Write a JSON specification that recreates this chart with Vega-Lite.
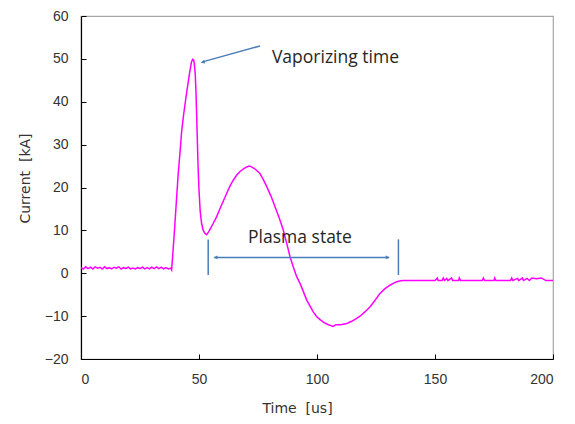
{
  "$schema": "https://vega.github.io/schema/vega-lite/v6.json",
  "width": 472,
  "height": 343,
  "autosize": "none",
  "padding": {"left": 81, "top": 16, "right": 22, "bottom": 65},
  "background": "white",
  "config": {
    "view": {"stroke": "#a6a6a6", "strokeWidth": 1.2},
    "font": "Liberation Sans"
  },
  "layer": [
    {
      "data": {"values": [
        {"t":0,"i":1.3},{"t":1,"i":1.0},{"t":2,"i":1.5},{"t":3,"i":1.1},{"t":4,"i":1.4},{"t":5,"i":1.0},{"t":6,"i":1.5},{"t":7,"i":1.2},{"t":8,"i":1.4},{"t":9,"i":1.0},
        {"t":10,"i":1.5},{"t":11,"i":1.1},{"t":12,"i":1.3},{"t":13,"i":1.0},{"t":14,"i":1.4},{"t":15,"i":1.2},{"t":16,"i":1.5},{"t":17,"i":1.0},{"t":18,"i":1.3},{"t":19,"i":1.1},
        {"t":20,"i":1.4},{"t":21,"i":1.0},{"t":22,"i":1.2},{"t":23,"i":1.0},{"t":24,"i":1.3},{"t":25,"i":1.1},{"t":26,"i":1.4},{"t":27,"i":1.0},{"t":28,"i":1.3},{"t":29,"i":1.0},
        {"t":30,"i":1.4},{"t":31,"i":1.1},{"t":32,"i":1.5},{"t":33,"i":1.1},{"t":34,"i":1.4},{"t":35,"i":1.0},{"t":36,"i":1.3},{"t":37,"i":1.0},{"t":38,"i":1.2},{"t":38.4,"i":0.8},
        {"t":39.1,"i":6},{"t":39.8,"i":11.6},{"t":40.5,"i":17.5},{"t":41.2,"i":23.3},{"t":42,"i":28.5},{"t":42.7,"i":33.4},{"t":43.6,"i":37.5},{"t":44.5,"i":41.1},{"t":45.4,"i":44.5},{"t":46.2,"i":47.4},
        {"t":46.8,"i":49.2},{"t":47.3,"i":49.9},{"t":47.7,"i":49.8},{"t":48,"i":48.9},{"t":48.4,"i":46.5},{"t":48.7,"i":42.7},{"t":49,"i":37},{"t":49.3,"i":31},{"t":49.6,"i":25},{"t":50,"i":19.4},
        {"t":50.5,"i":14.5},{"t":51.1,"i":11.6},{"t":51.8,"i":10},{"t":52.5,"i":9.3},{"t":53.2,"i":9.0},{"t":54,"i":9.6},{"t":55,"i":10.6},{"t":56,"i":11.6},{"t":57.5,"i":13.2},{"t":59,"i":15.2},
        {"t":60.5,"i":17.1},{"t":61.7,"i":18.6},{"t":63,"i":20.2},{"t":64.5,"i":21.7},{"t":66,"i":22.9},{"t":67.5,"i":23.8},{"t":69,"i":24.4},{"t":70.2,"i":24.8},{"t":71.3,"i":25.0},{"t":72.3,"i":24.8},
        {"t":74,"i":24.2},{"t":75.8,"i":23.3},{"t":77.2,"i":21.9},{"t":78.7,"i":20.2},{"t":80.5,"i":18.0},{"t":82.2,"i":15.5},{"t":84,"i":12.9},{"t":85.7,"i":10.1},{"t":87.2,"i":6.9},{"t":88.6,"i":3.8},
        {"t":90,"i":1.4},{"t":91.4,"i":-0.8},{"t":93,"i":-2.6},{"t":94.3,"i":-4.4},{"t":95.6,"i":-6.2},{"t":97,"i":-7.6},{"t":98.4,"i":-9.0},{"t":99.8,"i":-10.1},{"t":101.3,"i":-10.8},{"t":103,"i":-11.5},
        {"t":104.8,"i":-12.0},{"t":106.9,"i":-12.4},{"t":108,"i":-12.0},{"t":110,"i":-12.0},{"t":112.6,"i":-11.7},{"t":114.7,"i":-11.2},{"t":116.8,"i":-10.5},{"t":118.5,"i":-9.9},{"t":120.5,"i":-8.9},{"t":122.5,"i":-7.8},
        {"t":124.6,"i":-6.3},{"t":126.7,"i":-4.7},{"t":128.8,"i":-3.6},{"t":130.9,"i":-2.8},{"t":132.5,"i":-2.3},{"t":133.8,"i":-2.0},{"t":135,"i":-1.8},{"t":136.4,"i":-1.7},
        {"t":140,"i":-1.7},{"t":150,"i":-1.7},{"t":151,"i":-1.1},{"t":151.3,"i":-1.7},{"t":153,"i":-1.7},{"t":153.5,"i":-1.1},{"t":154,"i":-1.7},{"t":155,"i":-1.2},{"t":155.5,"i":-1.7},{"t":157,"i":-1.1},
        {"t":157.5,"i":-1.7},{"t":160,"i":-1.7},{"t":160.3,"i":-1.1},{"t":160.8,"i":-1.7},{"t":170,"i":-1.7},{"t":170.5,"i":-1.1},{"t":171,"i":-1.7},{"t":175,"i":-1.7},{"t":175.3,"i":-1.1},{"t":175.8,"i":-1.7},
        {"t":182,"i":-1.7},{"t":182.5,"i":-1.1},{"t":183,"i":-1.7},{"t":185,"i":-1.2},{"t":185.5,"i":-1.7},{"t":187,"i":-1.1},{"t":187.5,"i":-1.7},{"t":189,"i":-1.2},{"t":190,"i":-1.7},{"t":191,"i":-1.1},
        {"t":193,"i":-1.3},{"t":195,"i":-1.1},{"t":197,"i":-1.7},{"t":200,"i":-1.7}
      ]},
      "mark": {"type": "line", "color": "#ff00ff", "strokeWidth": 1.5, "clip": true},
      "encoding": {
        "x": {"field": "t", "type": "quantitative",
          "scale": {"domain": [0, 200], "nice": false, "zero": false},
          "axis": {"values": [0, 50, 100, 150, 200], "grid": false, "title": "Time\u00a0 [us]",
            "domainColor": "#000000", "domainWidth": 1.2, "tickColor": "#000000", "tickSize": -5,
            "labelFontSize": 14, "labelColor": "#333333", "labelPadding": 18, "labelFont": "Liberation Sans",
            "titleFontSize": 14, "titleFontWeight": "normal", "titleColor": "#333333", "titleFont": "DejaVu Sans",
            "titleX": 216, "titleY": 49, "titleBaseline": "middle", "titleAnchor": "middle"}},
        "y": {"field": "i", "type": "quantitative",
          "scale": {"domain": [-20, 60], "nice": false, "zero": false},
          "axis": {"values": [-20, -10, 0, 10, 20, 30, 40, 50, 60], "grid": false, "title": "Current\u00a0 [kA]",
            "domainColor": "#000000", "domainWidth": 1.2, "tickColor": "#000000", "tickSize": -5,
            "labelFontSize": 14, "labelColor": "#333333", "labelPadding": 18, "labelFont": "Liberation Sans",
            "titleFontSize": 14, "titleFontWeight": "normal", "titleColor": "#333333", "titleFont": "DejaVu Sans",
            "titleX": -56, "titleY": 162, "titleBaseline": "middle", "titleAnchor": "middle"}}
      }
    },
    {
      "data": {"values": [
        {"t": 75.8, "i": 53.0, "t2": 51.5, "i2": 49.3},
        {"t": 56.5, "i": 3.7, "t2": 130.5, "i2": 3.7},
        {"t": 53.9, "i": 7.9, "t2": 53.9, "i2": -0.4},
        {"t": 134.5, "i": 7.9, "t2": 134.5, "i2": -0.4}
      ]},
      "mark": {"type": "rule", "color": "#4a7ebb", "strokeWidth": 1.5},
      "encoding": {
        "x": {"field": "t", "type": "quantitative"},
        "x2": {"field": "t2"},
        "y": {"field": "i", "type": "quantitative"},
        "y2": {"field": "i2"}
      }
    },
    {
      "data": {"values": [{"t": 50.7, "i": 49.1}]},
      "mark": {"type": "point", "shape": "M0,0 L-1,-0.45 L-1,0.45 Z", "filled": true, "color": "#4a7ebb", "opacity": 1, "size": 70, "angle": 164.3},
      "encoding": {
        "x": {"field": "t", "type": "quantitative"},
        "y": {"field": "i", "type": "quantitative"}
      }
    },
    {
      "data": {"values": [{"t": 56.1, "i": 3.7}]},
      "mark": {"type": "point", "shape": "M0,0 L-1,-0.45 L-1,0.45 Z", "filled": true, "color": "#4a7ebb", "opacity": 1, "size": 70, "angle": 180},
      "encoding": {
        "x": {"field": "t", "type": "quantitative"},
        "y": {"field": "i", "type": "quantitative"}
      }
    },
    {
      "data": {"values": [{"t": 130.9, "i": 3.7}]},
      "mark": {"type": "point", "shape": "M0,0 L-1,-0.45 L-1,0.45 Z", "filled": true, "color": "#4a7ebb", "opacity": 1, "size": 70, "angle": 0},
      "encoding": {
        "x": {"field": "t", "type": "quantitative"},
        "y": {"field": "i", "type": "quantitative"}
      }
    },
    {
      "data": {"values": [
        {"t": 80.9, "i": 50.3, "label": "Vaporizing time"},
        {"t": 70.8, "i": 8.2, "label": "Plasma state"}
      ]},
      "mark": {"type": "text", "align": "left", "baseline": "middle", "font": "Open Sans", "fontSize": 17.5, "color": "#262626"},
      "encoding": {
        "x": {"field": "t", "type": "quantitative"},
        "y": {"field": "i", "type": "quantitative"},
        "text": {"field": "label"}
      }
    }
  ]
}
